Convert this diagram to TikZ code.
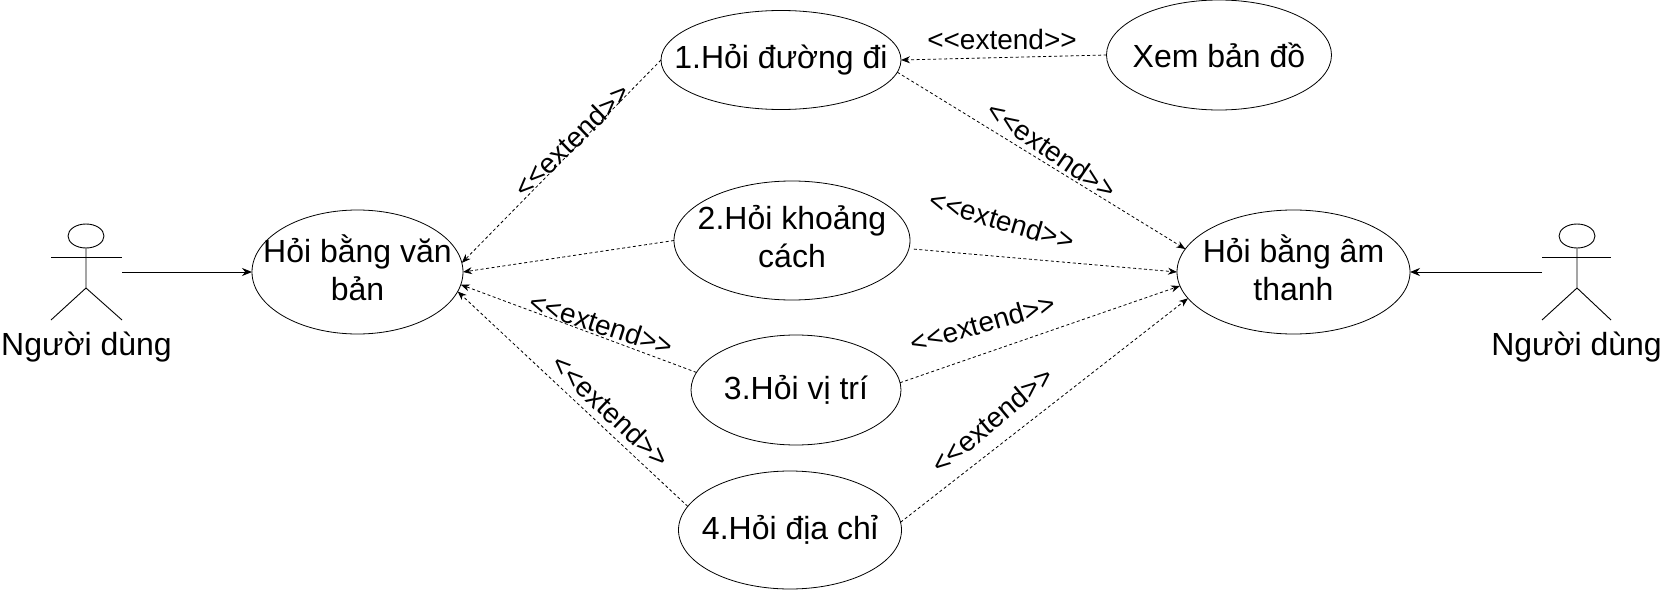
\documentclass[tikz,border=0pt]{standalone}
\usepackage{fontspec}
\setmainfont{Liberation Sans}
\usetikzlibrary{arrows.meta, shapes.geometric}
\newcommand{\liftup}{\rule[-8pt]{0pt}{0pt}}
\tikzstyle{usecase} = [draw, ellipse, outer sep=0, inner sep=-40pt,
    line width=0.8, align=center, font=\fontsize{32}{38}\selectfont]
\tikzstyle{actorname} = [inner sep=0, font=\fontsize{32}{38}\selectfont]
\tikzstyle{extlabel} = [inner sep=0, font=\fontsize{28}{32}\selectfont]
\tikzstyle{limb} = [line width=0.9]
\tikzstyle{assoc} = [-{Stealth[length=10,width=8]}, line width=1]
\tikzstyle{dep} = [-{Stealth[length=9,width=7]}, line width=0.8, dash pattern=on 3 off 2.5]

\begin{document}
\begin{tikzpicture}[x=1pt,y=-1pt]
\useasboundingbox (0,0) rectangle (1662,591);

%%% USE CASES
\node[usecase, minimum width=211, minimum height=124] (van) at (357.5,272) {Hỏi bằng văn\\bản\liftup};
\node[usecase, minimum width=233, minimum height=124] (am) at (1293.5,272) {Hỏi bằng âm\\thanh\liftup};
\node[usecase, minimum width=240, minimum height=99] (duong) at (781,60) {1.Hỏi đường đi};
\node[usecase, minimum width=225, minimum height=110] (bando) at (1219,55) {Xem bản đồ};
\node[usecase, minimum width=236, minimum height=119] (khoang) at (792,240.5) {2.Hỏi khoảng\\cách\liftup};
\node[usecase, minimum width=210, minimum height=110] (vitri) at (796,390) {3.Hỏi vị trí};
\node[usecase, minimum width=223, minimum height=118] (diachi) at (790,530) {4.Hỏi địa chỉ};

%%% ACTOR LEFT
\node[draw, ellipse, limb, minimum width=36, minimum height=24, inner sep=0] (headl) at (86,236) {};
\coordinate (handl) at (122,272);
\draw[limb] (headl.south) -- (86,288) -- (51,320);
\draw[limb] (86,288) -- (122,320);
\draw[limb] (51,257) -- (122,257);
\node[actorname] (namel) at (86.5,347) {Người dùng};

%%% ACTOR RIGHT
\node[draw, ellipse, limb, minimum width=36, minimum height=24, inner sep=0] (headr) at (1577,236) {};
\coordinate (handr) at (1542,272);
\draw[limb] (headr.south) -- (1577,288) -- (1542,320);
\draw[limb] (1577,288) -- (1611,320);
\draw[limb] (1542,257) -- (1611,257);
\node[actorname] (namer) at (1576.5,347) {Người dùng};

% actors to use cases
\draw[assoc] (handl) -- (van.west);
\draw[assoc] (handr) -- (am.east);

%%% EXTEND LEFT
\draw[dep] (duong.180) -- (van.5.5);
\draw[dep] (khoang.west) -- (van.0);
\draw[dep] (vitri.170) -- (van.-7);
\draw[dep] (diachi.167) -- (van.-11.7);

%%% EXTEND RIGHT
\draw[dep] (bando.west) -- (duong.east);
\draw[dep] (duong.-6.3) -- (am.168.6);
\draw[dep, shorten <=5] (khoang.-4) -- (am.west);
\draw[dep] (vitri.4.4) -- (am.187.3);
\draw[dep] (diachi.4) -- (am.194.2);

%%% LABELS
\node[extlabel, rotate=44] (e1) at (572,140) {<{}<extend>{}>};
\node[extlabel] (e2) at (1002,39) {<{}<extend>{}>};
\node[extlabel, rotate=-34.6] (e3) at (1052,150) {<{}<extend>{}>};
\node[extlabel, rotate=-16.5] (e4) at (1002,220) {<{}<extend>{}>};
\node[extlabel, rotate=16] (e5) at (983,323) {<{}<extend>{}>};
\node[extlabel, rotate=-18] (e6) at (601.5,324) {<{}<extend>{}>};
\node[extlabel, rotate=-43.5] (e7) at (611,411) {<{}<extend>{}>};
\node[extlabel, rotate=40] (e8) at (992,420) {<{}<extend>{}>};

\end{tikzpicture}
\end{document}
